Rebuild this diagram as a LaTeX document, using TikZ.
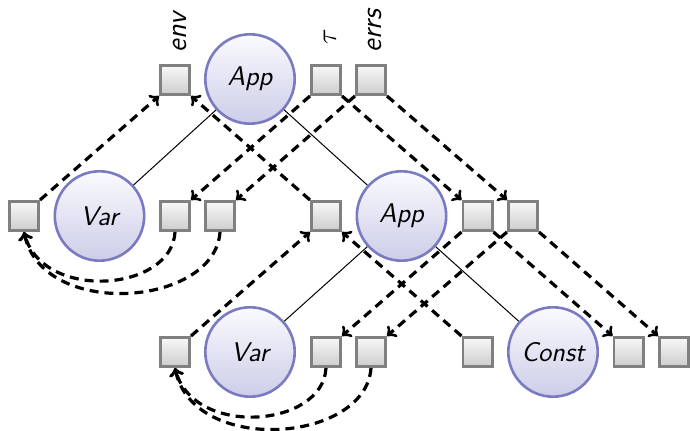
\documentclass[tikz,border=0pt]{standalone}
\usepackage{fontspec}
\definecolor{cborder}{RGB}{122,122,194}
\definecolor{ctop}{RGB}{250,250,255}
\definecolor{cbot}{RGB}{205,205,232}
\definecolor{sqborder}{RGB}{128,128,128}
\definecolor{sqtop}{RGB}{248,248,248}
\definecolor{sqbot}{RGB}{205,205,205}
\begin{document}
\begin{tikzpicture}[x=0.5pt,y=-0.5pt,
  tnode/.style={circle,draw=cborder,line width=1.3pt,top color=ctop,bottom color=cbot,minimum size=44.7pt,inner sep=0pt,font=\fontsize{13.5}{15}\selectfont\sffamily\itshape},
  attr/.style={rectangle,draw=sqborder,line width=1.3pt,top color=sqtop,bottom color=sqbot,minimum size=14.7pt,inner sep=0pt},
  dep/.style={->,line width=1.6pt,dash pattern=on 4.5pt off 3pt},
  treeline/.style={line width=0.5pt},
  lab/.style={rotate=90,anchor=west,inner sep=0pt,font=\fontsize{14.5}{16}\selectfont\sffamily\itshape}]
\useasboundingbox (0,0) rectangle (691,431);
% tree nodes
\node[tnode] (A1) at (250,79) {App};
\node[tnode] (V1) at (99.5,216) {Var};
\node[tnode] (A2) at (401.5,216) {App};
\node[tnode] (V2) at (250,352) {Var};
\node[tnode] (C) at (553,352) {Const};
% attribute boxes
\node[attr] (A1env) at (175,80) {};
\node[attr] (A1tau) at (326,80) {};
\node[attr] (A1err) at (371,80) {};
\node[attr] (V1env) at (24,216) {};
\node[attr] (V1tau) at (175,216) {};
\node[attr] (V1err) at (220,216) {};
\node[attr] (A2env) at (326,216) {};
\node[attr] (A2tau) at (477.5,216) {};
\node[attr] (A2err) at (523,216) {};
\node[attr] (V2env) at (175,352) {};
\node[attr] (V2tau) at (326,352) {};
\node[attr] (V2err) at (371,352) {};
\node[attr] (Cenv) at (477.5,352) {};
\node[attr] (Ctau) at (628.5,352) {};
\node[attr] (Cerr) at (674,352) {};
% labels
\node[lab] (Lenv) at (180,53) {env};
\node[lab] (Ltau) at (330,45) {$\tau$};
\node[lab] (Lerr) at (374.5,53) {errs};
% tree edges
\draw[treeline] (V1) -- (A1);
\draw[treeline] (A1) -- (A2);
\draw[treeline] (V2) -- (A2);
\draw[treeline] (A2) -- (C);
% dependencies, top level
\draw[dep] (V1env.north east) -- (A1env.south west);
\draw[dep] (A2env.north west) -- (A1env.south east);
\draw[dep] (A1tau.south west) -- (V1tau.north east);
\draw[dep] (A1err.south west) -- (V1err.north east);
\draw[dep] (A1tau.south east) -- (A2tau.north west);
\draw[dep] (A1err.south east) -- (A2err.north west);
\draw[dep] (V1tau.south) .. controls +(-3,60) and +(18,70) .. (V1env.south);
\draw[dep] (V1err.south) .. controls +(-5,75) and +(18,88) .. (V1env.south);
% dependencies, middle level
\draw[dep] (V2env.north east) -- (A2env.south west);
\draw[dep] (Cenv.north west) -- (A2env.south east);
\draw[dep] (A2tau.south west) -- (V2tau.north east);
\draw[dep] (A2err.south west) -- (V2err.north east);
\draw[dep] (A2tau.south east) -- (Ctau.north west);
\draw[dep] (A2err.south east) -- (Cerr.north west);
\draw[dep] (V2tau.south) .. controls +(-3,60) and +(18,70) .. (V2env.south);
\draw[dep] (V2err.south) .. controls +(-5,75) and +(18,88) .. (V2env.south);
\end{tikzpicture}
\end{document}
